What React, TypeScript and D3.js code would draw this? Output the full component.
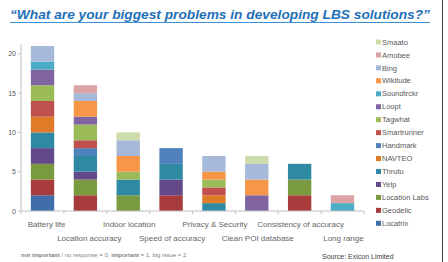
import React from 'react';
import * as d3 from 'd3';

// categories along the x axis (two label rows, alternating)
const categories = [
  'Battery life',
  'Location accuracy',
  'Indoor location',
  'Speed of accuracy',
  'Privacy & Security',
  'Clean POI database',
  'Consistency of accuracy',
  'Long range',
];

// series, bottom of the stack first
const seriesNames = [
  'Locatrix', 'Geodelic', 'Location Labs', 'Yelp', 'Thrutu', 'NAVTEO', 'Handmark',
  'Smartrunner', 'Tagwhat', 'Loopt', 'Soundtrckr', 'Wikitude', 'Bing', 'Amobee', 'Smaato',
];

const locatrix = [2, 0, 0, 0, 0, 0, 0, 0];
const geodelic = [2, 2, 0, 2, 0, 0, 2, 0];
const locationLabs = [2, 2, 2, 0, 0, 0, 2, 0];
const yelp = [2, 1, 0, 2, 0, 0, 0, 0];
const thrutu = [2, 2, 2, 2, 1, 0, 2, 0];
const navteo = [2, 0, 0, 0, 1, 0, 0, 0];
const handmark = [0, 1, 0, 2, 0, 0, 0, 0];
const smartrunner = [2, 1, 0, 0, 1, 0, 0, 0];
const tagwhat = [2, 2, 1, 0, 1, 0, 0, 0];
const loopt = [2, 1, 0, 0, 0, 2, 0, 0];
const soundtrckr = [1, 0, 0, 0, 0, 0, 0, 1];
const wikitude = [0, 2, 2, 0, 1, 2, 0, 0];
const bing = [2, 1, 2, 0, 2, 2, 0, 0];
const amobee = [0, 1, 0, 0, 0, 0, 0, 1];
const smaato = [0, 0, 1, 0, 0, 1, 0, 0];

const seriesValues = [
  locatrix, geodelic, locationLabs, yelp, thrutu, navteo, handmark,
  smartrunner, tagwhat, loopt, soundtrckr, wikitude, bing, amobee, smaato,
];

const colors = [
  '#3f6eaa', '#a83b3b', '#7a9a3f', '#63498a', '#2e8aa2', '#e07b28', '#4f81bd',
  '#c0504d', '#9bbb59', '#8064a2', '#4bacc6', '#f79646', '#a6b9db', '#dba3a3', '#cddcab',
];

const yTicks = [0, 5, 10, 15, 20];

const TITLE = '\u201cWhat are your biggest problems in developing LBS solutions?\u201d';
const SOURCE = 'Source:  Exicon Limited';

const App = () => {
  const width = 448;
  const height = 262;
  const left = 21;
  const right = 364;
  const bottom = 211;
  const top = 44;

  const x = d3.scaleBand<string>()
    .domain(categories)
    .range([left, right])
    .paddingInner(0.455)
    .paddingOuter(0.23);

  const y = d3.scaleLinear().domain([0, 21.25]).range([bottom, top]);

  const table = categories.map((c, i) => {
    const row: any = { category: c };
    seriesNames.forEach((s, j) => { row[s] = seriesValues[j][i]; });
    return row;
  });
  const stacked = d3.stack().keys(seriesNames)(table);

  const step = (right - left) / categories.length;
  const font = '"Liberation Sans", Arial, sans-serif';

  return (
    <div style={{ position: 'absolute', left: 0, top: 0, width, height, background: '#fff' }}>
      <svg width={width} height={height} style={{ display: 'block', fontFamily: font }}>
        <rect width={width} height={height} fill="#fff" />
        {/* title */}
        <text x={10} y={19} fontSize={13.2} fontWeight="bold" fontStyle="italic" fill="#1f6fb8"
          textLength={420} lengthAdjust="spacingAndGlyphs">{TITLE}</text>
        <line x1={10} x2={430} y1={22.5} y2={22.5} stroke="#3d8fd6" strokeWidth={1} />

        {/* y axis */}
        <line x1={left} x2={left} y1={top} y2={bottom} stroke="#c0c0c0" />
        {yTicks.map(t => (
          <g key={t}>
            <line x1={left - 3} x2={left} y1={y(t)} y2={y(t)} stroke="#c0c0c0" />
            <text x={left - 5} y={y(t) + 2.5} fontSize={7} fill="#595959" textAnchor="end">{t}</text>
          </g>
        ))}

        {/* bars */}
        {stacked.map((layer, j) => (
          <g key={layer.key} fill={colors[j]}>
            {layer.map((d, i) => d[1] > d[0] ? (
              <rect key={i} x={x(categories[i])} width={x.bandwidth()}
                y={y(d[1])} height={y(d[0]) - y(d[1])} />
            ) : null)}
          </g>
        ))}

        {/* x axis */}
        <line x1={left} x2={right} y1={bottom} y2={bottom} stroke="#c0c0c0" />
        {d3.range(categories.length + 1).map(i => (
          <line key={i} x1={left + i * step} x2={left + i * step} y1={bottom} y2={bottom + 3} stroke="#c0c0c0" />
        ))}
        {categories.map((c, i) => (
          <text key={c} x={(x(c) ?? 0) + x.bandwidth() / 2 + (i < 2 ? 4 : 1)} y={i % 2 === 0 ? 226.5 : 240.5}
            fontSize={8} fill="#666" textAnchor="middle">{c}</text>
        ))}

        {/* legend, top item is last series */}
        {seriesNames.slice().reverse().map((s, k) => {
          const j = seriesNames.length - 1 - k;
          const ly = 42 + k * 12.95;
          return (
            <g key={s}>
              <rect x={376} y={ly - 2.5} width={5} height={5} fill={colors[j]} />
              <text x={382} y={ly + 2.6} fontSize={7.5} fill="#595959">{s}</text>
            </g>
          );
        })}

        {/* notes */}
        <text x={21} y={257} fontSize={6} fill="#7f7f7f">
          <tspan fontWeight="bold">not important</tspan>
          <tspan> / no response = 0, </tspan>
          <tspan fontWeight="bold">important</tspan>
          <tspan> = 1, big issue = 2</tspan>
        </text>
        <text x={322} y={259} fontSize={7} fill="#404040">{SOURCE}</text>

        {/* right frame line */}
        <line x1={442.5} x2={442.5} y1={0} y2={height} stroke="#404040" strokeWidth={1} />
      </svg>
    </div>
  );
};

export default App;
